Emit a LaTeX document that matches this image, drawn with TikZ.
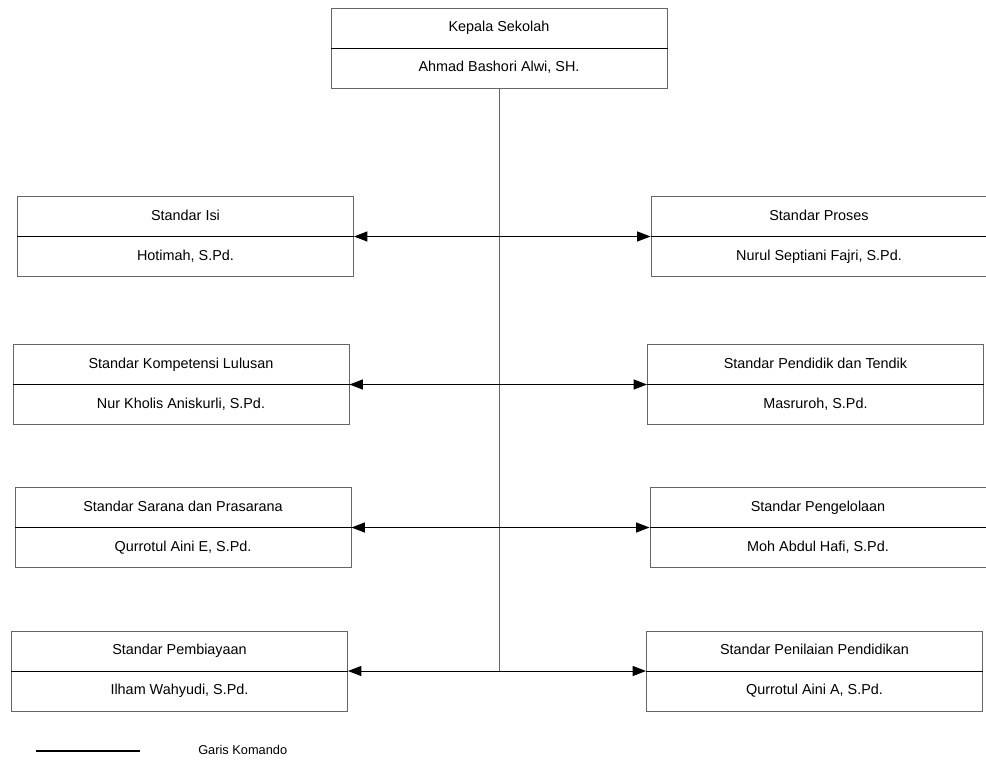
\documentclass[tikz,border=0pt]{standalone}
\usepackage{fontspec}
\setmainfont{Liberation Sans}
\usetikzlibrary{arrows.meta}

\begin{document}
\begin{tikzpicture}[x=0.75pt, y=-0.75pt,
    jabatan/.style={draw=black!60, line width=0.75pt, minimum width=252pt, minimum height=60pt, inner sep=0pt},
    teks/.style={font=\fontsize{10.8}{12}\selectfont, inner sep=0pt, text height=7.8pt, text depth=2.2pt},
    garis/.style={black, line width=0.75pt},
    komando/.style={garis, {Triangle[length=10pt,width=7.5pt]}-{Triangle[length=10pt,width=7.5pt]}}
  ]
    % Page frame (986 x 760)
    \useasboundingbox (0,0) rectangle (986,760);

    % Boxes: name / x / y / title / person
    \foreach \n/\x/\y/\a/\b in {
        kepala/499/48/{Kepala Sekolah}/{Ahmad Bashori Alwi, SH.},
        isi/185.5/236.5/{Standar Isi}/{Hotimah, S.Pd.},
        proses/819/236.5/{Standar Proses}/{Nurul Septiani Fajri, S.Pd.},
        kompetensi/181/384.5/{Standar Kompetensi Lulusan}/{Nur Kholis Aniskurli, S.Pd.},
        pendidik/815.5/384.5/{Standar Pendidik dan Tendik}/{Masruroh, S.Pd.},
        sarana/183/527.5/{Standar Sarana dan Prasarana}/{Qurrotul Aini E, S.Pd.},
        pengelolaan/818/527.5/{Standar Pengelolaan}/{Moh Abdul Hafi, S.Pd.},
        pembiayaan/179.5/671/{Standar Pembiayaan}/{Ilham Wahyudi, S.Pd.},
        penilaian/814.5/671/{Standar Penilaian Pendidikan}/{Qurrotul Aini A, S.Pd.}} {
      \node[jabatan] (\n) at (\x,\y) {};
      \draw[garis] (\n.west) -- (\n.east);
      \node[teks] (\n-judul) at (\x,{\y-20}) {\a};
      \node[teks] (\n-nama) at (\x,{\y+20}) {\b};
    }

    % Vertical command line
    \coordinate (ujung) at (kepala.south |- pembiayaan.east);
    \draw[draw=black!60, line width=0.75pt] (kepala.south) -- (ujung);

    % Horizontal command lines
    \draw[komando] (isi.east) -- (proses.west);
    \draw[komando] (kompetensi.east) -- (pendidik.west);
    \draw[komando] (sarana.east) -- (pengelolaan.west);
    \draw[komando] (pembiayaan.east) -- (penilaian.west);

    % Legend
    \coordinate (leg-a) at (36,751);
    \coordinate (leg-b) at (140,751);
    \draw[black, line width=1.6pt] (leg-a) -- (leg-b);
    \node[teks, font=\fontsize{9.6}{11}\selectfont, anchor=west] (legenda) at (198,751) {Garis Komando};

  \end{tikzpicture}
\end{document}
